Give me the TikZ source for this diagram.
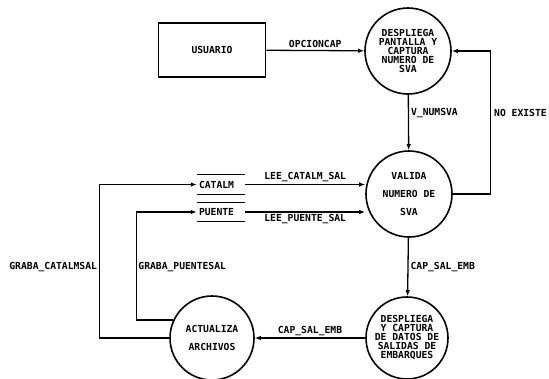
\documentclass[tikz,border=0pt]{standalone}
\usepackage{fontspec}
\newfontfamily\dfont{DejaVu Sans Mono}
\usetikzlibrary{arrows.meta,calc}
\begin{document}
\begin{tikzpicture}[x=1pt,y=-1pt,
  every node/.style={font=\dfont\bfseries\fontsize{9.7}{9}\selectfont},
  proc/.style={circle,draw,line width=1.6pt,minimum size=86pt,inner sep=0pt,align=center},
  ext/.style={rectangle,draw,line width=1.5pt,minimum width=107pt,minimum height=54pt},
  store/.style={minimum width=48pt,minimum height=19pt,text width=44pt,inner sep=2pt,align=left},
  flow/.style={line width=1.3pt,-{Latex[length=6pt,width=4.5pt]}},
  lab/.style={inner sep=2pt}]
\useasboundingbox (0,0) rectangle (549,378);

\node[ext] (usuario) at (212,50) {USUARIO};
\node[proc] (p1) at (408,51) {DESPLIEGA\\PANTALLA Y\\CAPTURA\\NUMERO DE\\SVA};
\node[proc] (p2) at (409,194) {VALIDA\\[9pt]NUMERO DE\\[9pt]SVA};
\node[proc,minimum size=84pt] (p3) at (212,338) {ACTUALIZA\\[9pt]ARCHIVOS};
\node[proc,minimum size=82pt] (p4) at (407,338) {DESPLIEGA\\Y CAPTURA\\DE DATOS DE\\SALIDAS DE\\EMBARQUES};

\node[store] (catalm) at (221,184.5) {CATALM};
\node[store] (puente) at (221,212) {PUENTE};
\foreach \s in {catalm,puente}{
  \draw[line width=1.3pt] (\s.north west) -- (\s.north east);
  \draw[line width=1.3pt] (\s.south west) -- (\s.south east);
}

\draw[flow] (usuario) -- node[lab,above] {OPCIONCAP} (p1);
\draw[flow] (p1) -- node[lab,right,pos=0.33] {V\_NUMSVA} (p2);
\draw[flow] (p2.east) -| ($(p1.east)+(39,0)$) |- (p1.east);
\node[lab,anchor=west] (noex) at (492,113) {NO EXISTE};

\draw[flow] (catalm.east) -- node[lab,above] {LEE\_CATALM\_SAL} (catalm.east -| p2.west);
\draw[flow] (puente.east) -- node[lab,below] {LEE\_PUENTE\_SAL} (puente.east -| p2.west);

\draw[flow] (p2) -- node[lab,right] {CAP\_SAL\_EMB} (p4);
\draw[flow] (p4) -- node[lab,above] {CAP\_SAL\_EMB} (p3);

\draw[flow] (p3.west) -- ++(-70,0) coordinate (c1) |- (catalm.west);
\draw[flow] (p3.155) -- ++(-37,0) coordinate (c2) |- (puente.west);
\node[lab,anchor=east] at (c1 |- 0,267) {GRABA\_CATALMSAL};
\node[lab,anchor=west] at (c2 |- 0,267) {GRABA\_PUENTESAL};
\end{tikzpicture}
\end{document}
